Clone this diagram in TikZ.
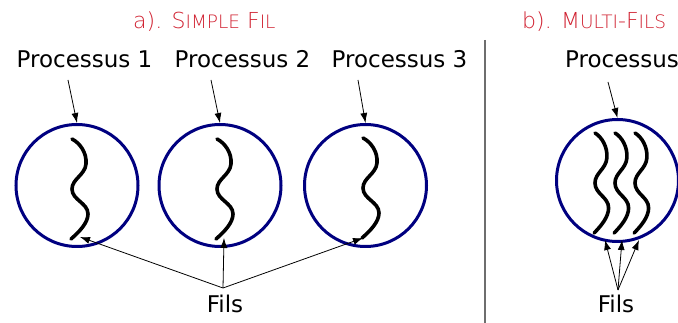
\documentclass[tikz,border=0pt]{standalone}
\usepackage{fontspec}
\setmainfont{DejaVu Sans}
\newfontfamily\thinfont{DejaVu Sans ExtraLight}
\usetikzlibrary{arrows.meta}
\definecolor{titlered}{RGB}{208,32,48}
\definecolor{procblue}{RGB}{0,0,128}
\definecolor{sepgray}{RGB}{110,110,110}
\tikzset{
  proc/.style={circle, draw=procblue, line width=3pt, minimum size=122pt, inner sep=0pt},
  lbl/.style={anchor=base, inner sep=0pt, font=\fontsize{23}{27}\selectfont},
  ttl/.style={anchor=base west, inner sep=0pt, text=titlered},
  arr/.style={line width=0.8pt, -{Latex[length=10pt,width=7pt]}},
  thread/.style={line width=3.6pt, line cap=round},
  wave/.pic={\draw[thread] (0,0) .. controls (8,4) and (15,14) .. (14,25)
      .. controls (13,36) and (0,40) .. (0,50)
      .. controls (0,61) and (16,64) .. (16,75)
      .. controls (16,84) and (7,93) .. (-1,100);}
}
\newcommand\bigc[1]{{\fontsize{22}{26}\selectfont #1}}
\newcommand\smc[1]{{\fontsize{18.5}{22}\selectfont #1}}
\begin{document}
\begin{tikzpicture}[x=1pt, y=-1pt]
\useasboundingbox (0,0) rectangle (678,323);

% titles
\node[ttl] (ta) at (133,29) {\thinfont\bigc{a). S}\smc{IMPLE}\bigc{ F}\smc{IL}};
\node[ttl] (tb) at (522,29) {\thinfont\bigc{b). M}\smc{ULTI}\bigc{-F}\smc{ILS}};

% separator
\coordinate (s1) at (485,40);
\coordinate (s2) at (485,323);
\draw[sepgray, line width=1.2pt] (s1) -- (s2);

% single-thread processes
\node[proc] (c1) at (77,185.5) {};
\node[proc] (c2) at (220,185.5) {};
\node[proc] (c3) at (365.5,185.5) {};
\node[lbl] (p1) at (84.5,68) {Processus 1};
\node[lbl] (p2) at (242.5,68) {Processus 2};
\node[lbl] (p3) at (399.5,68) {Processus 3};
\coordinate (a1) at (68,80);
\coordinate (a2) at (211,80);
\coordinate (a3) at (358,80);
\draw[arr] (a1) -- (c1.north);
\draw[arr] (a2) -- (c2.north);
\draw[arr] (a3) -- (c3.north);
\pic at (72,139) {wave};
\pic at (217,139) {wave};
\pic at (363,138) {wave};

\node[lbl] (f1) at (225,313) {Fils};
\coordinate (fa) at (223,288);
\coordinate (t1) at (80,237);
\coordinate (t2) at (224,238);
\coordinate (t3) at (363,238);
\draw[arr] (fa) -- (t1);
\draw[arr] (fa) -- (t2);
\draw[arr] (fa) -- (t3);

% multi-thread process
\node[proc] (c4) at (617.5,180.5) {};
\node[lbl] (p4) at (622,68) {Processus};
\coordinate (a4) at (608,82);
\draw[arr] (a4) -- (c4.north);
\pic[xscale=0.85] at (595,133) {wave};
\pic[xscale=0.85] at (615,133) {wave};
\pic[xscale=0.85] at (635,133) {wave};

\node[lbl] (f2) at (616,313) {Fils};
\coordinate (fb) at (618,290);
\coordinate (t4) at (605,240);
\coordinate (t5) at (622,240);
\coordinate (t6) at (639,240);
\draw[arr] (fb) -- (t4);
\draw[arr] (fb) -- (t5);
\draw[arr] (fb) -- (t6);
\end{tikzpicture}
\end{document}
